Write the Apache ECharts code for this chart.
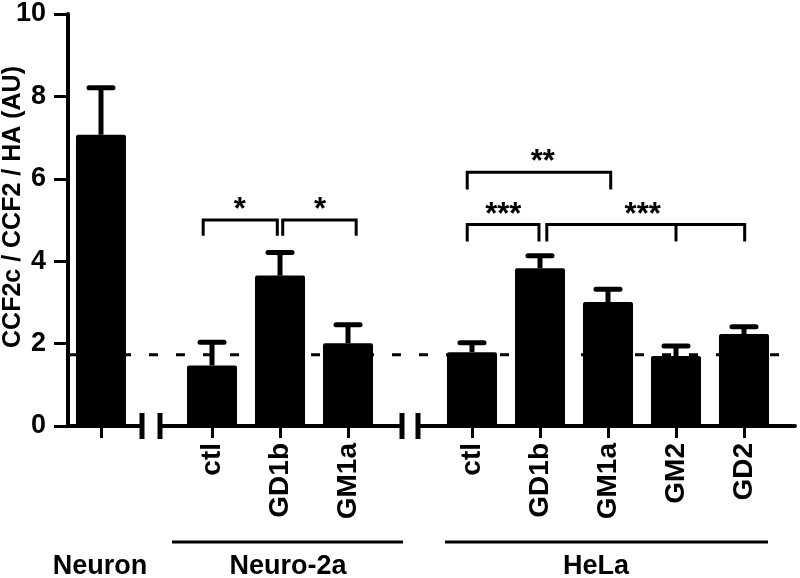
<!DOCTYPE html>
<html><head><meta charset="utf-8">
<script src="https://cdn.jsdelivr.net/npm/echarts@6/dist/echarts.min.js"></script>
<style>html,body{margin:0;padding:0;background:#fff}#c{width:800px;height:578px}</style>
</head><body><div id="c"></div>
<script>
// ---- data ----
const groupNames = ['Neuron', 'Neuro-2a', 'HeLa'];
const neuronCats = ['Neuron'];
const neuronMeans = [7.07];
const neuronErrTop = [8.21];
const n2aCats = ['ctl', 'GD1b', 'GM1a'];
const n2aMeans = [1.47, 3.65, 2.01];
const n2aErrTop = [2.03, 4.21, 2.46];
const helaCats = ['ctl', 'GD1b', 'GM1a', 'GM2', 'GD2'];
const helaMeans = [1.79, 3.83, 3.01, 1.70, 2.23];
const helaErrTop = [2.02, 4.13, 3.32, 1.94, 2.41];
const controlLevel = 1.73;
const yTicks = [0, 2, 4, 6, 8, 10];
// significance brackets: [fromIdx, toIdx, topValue, legEndValue, middleLegIdx]
const n2aBrackets = [[-0.13, 0.96, 5.0, 4.62, null], [1.04, 2.12, 5.0, 4.62, null]];
const n2aStars = [[0.41, 5.0, '*'], [1.59, 5.0, '*']];
const helaBrackets = [[-0.07, 2.04, 6.16, 5.74, null], [-0.07, 0.985, 4.89, 4.48, null], [1.10, 4.01, 4.89, 4.48, 3.0]];
const helaStars = [[1.04, 6.16, '**'], [0.46, 4.89, '***'], [2.51, 4.89, '***']];

// ---- chart ----
const FONT = '"Liberation Sans", Arial, Helvetica, sans-serif';
const chart = echarts.init(document.getElementById('c'), null, {renderer: 'canvas'});
const TOP = 14, H = 412;
const grids = [
  {left: 68, top: TOP, width: 74, height: H},
  {left: 160, top: TOP, width: 242, height: H},
  {left: 418, top: TOP, width: 377, height: H},
  {left: 68, top: TOP, width: 727, height: H}
].map(g => Object.assign(g, {containLabel: false, outerBoundsMode: 'none'}));
const cats = [neuronCats, n2aCats, helaCats];
const xRanges = [[-0.485, 0.603], [-0.765, 2.794], [-0.794, 4.75]];
const symbols = [['none', 'rect'], ['rect', 'rect'], ['rect', 'none']];

const xAxes = cats.map((c, i) => ({
  type: 'value', gridIndex: i, min: xRanges[i][0], max: xRanges[i][1],
  splitLine: {show: false},
  axisLine: {show: true, onZero: false, lineStyle: {color: '#000', width: 4},
    symbol: symbols[i], symbolSize: [26, 5]},
  axisTick: {show: true, customValues: c.map((_, k) => k), length: 12, lineStyle: {color: '#000', width: 3}},
  axisLabel: {show: true, customValues: c.map((_, k) => k),
    formatter: v => i === 0 ? '' : (c[Math.round(v)] || ''),
    rotate: 90, margin: 17, color: '#000', fontSize: 28, fontWeight: 'bold', fontFamily: FONT}
}));
xAxes.push({type: 'value', gridIndex: 3, min: 0, max: 1, show: false});

const yAxes = [0, 1, 2, 3].map(i => ({
  type: 'value', gridIndex: i, min: 0, max: 10, interval: 2, show: i === 0,
  splitLine: {show: false},
  name: i === 0 ? 'CCF2c / CCF2 / HA (AU)' : '', nameLocation: 'middle', nameGap: 42, nameMoveOverlap: false,
  nameTextStyle: {color: '#000', fontSize: 25, fontWeight: 'bold', fontFamily: FONT, padding: [0, 0, 0, 26]},
  axisLine: {show: true, onZero: false, lineStyle: {color: '#000', width: 4}},
  axisTick: {show: true, length: 14, lineStyle: {color: '#000', width: 3}},
  axisLabel: {show: true, margin: 22, color: '#000', fontSize: 27, fontWeight: 'bold', fontFamily: FONT,
    formatter: v => yTicks.includes(v) ? String(v) : ''}
}));

const meansAll = [neuronMeans, n2aMeans, helaMeans];
const errAll = [neuronErrTop, n2aErrTop, helaErrTop];
const series = [];
meansAll.forEach((m, i) => {
  series.push({
    type: 'bar', xAxisIndex: i, yAxisIndex: i, barWidth: 50, z: 3,
    itemStyle: {color: '#000', borderRadius: 2},
    data: m.map((v, k) => [k, v])
  });
  series.push({
    type: 'custom', xAxisIndex: i, yAxisIndex: i, z: 4,
    data: m.map((v, k) => [k, v, errAll[i][k]]),
    renderItem: (params, api) => {
      const base = api.coord([api.value(0), api.value(1)]);
      const top = api.coord([api.value(0), api.value(2)]);
      return {type: 'group', children: [
        {type: 'line', shape: {x1: base[0], y1: base[1], x2: top[0], y2: top[1]}, style: {stroke: '#000', lineWidth: 5}},
        {type: 'line', shape: {x1: top[0] - 12, y1: top[1], x2: top[0] + 12, y2: top[1]}, style: {stroke: '#000', lineWidth: 5, lineCap: 'round'}}
      ]};
    }
  });
});

function bracketSeries(idx, brackets) {
  return {
    type: 'custom', xAxisIndex: idx, yAxisIndex: idx, z: 5, clip: false,
    data: brackets.map(b => [b[0], b[1], b[2], b[3], b[4] == null ? -99 : b[4]]),
    renderItem: (params, api) => {
      const a = api.coord([api.value(0), api.value(2)]);
      const b = api.coord([api.value(1), api.value(2)]);
      const la = api.coord([api.value(0), api.value(3)]);
      const lb = api.coord([api.value(1), api.value(3)]);
      const ch = [{type: 'polyline', shape: {points: [la, a, b, lb]}, style: {stroke: '#000', lineWidth: 3, fill: null}}];
      if (api.value(4) > -99) {
        const m1 = api.coord([api.value(4), api.value(2)]);
        const m2 = api.coord([api.value(4), api.value(3)]);
        ch.push({type: 'line', shape: {x1: m1[0], y1: m1[1], x2: m2[0], y2: m2[1]}, style: {stroke: '#000', lineWidth: 3}});
      }
      return {type: 'group', children: ch};
    }
  };
}
function starSeries(idx, stars) {
  return {
    type: 'custom', xAxisIndex: idx, yAxisIndex: idx, z: 5, clip: false,
    data: stars.map(s => [s[0], s[1]]),
    renderItem: (params, api) => {
      const p = api.coord([api.value(0), api.value(1)]);
      const t = stars[params.dataIndex][2];
      return {type: 'text', x: p[0], y: p[1] + 6, style: {text: t, fill: '#000',
        font: 'bold 31px ' + FONT, textAlign: 'center', textVerticalAlign: 'bottom'}};
    }
  };
}
series.push(bracketSeries(1, n2aBrackets), starSeries(1, n2aStars));
series.push(bracketSeries(2, helaBrackets), starSeries(2, helaStars));
series.push({
  type: 'line', xAxisIndex: 3, yAxisIndex: 3, z: 1, symbol: 'none', silent: true,
  data: [[0, controlLevel], [1, controlLevel]],
  lineStyle: {color: '#000', width: 3, type: [9, 18]}
});

const textStyle = {fill: '#000', font: 'bold 27px ' + FONT, textAlign: 'center', textVerticalAlign: 'middle'};
chart.setOption({
  animation: false,
  backgroundColor: '#fff',
  grid: grids,
  xAxis: xAxes,
  yAxis: yAxes,
  series: series,
  graphic: [
    {type: 'line', shape: {x1: 172, y1: 542, x2: 403, y2: 542}, style: {stroke: '#000', lineWidth: 3}},
    {type: 'line', shape: {x1: 445, y1: 542, x2: 768, y2: 542}, style: {stroke: '#000', lineWidth: 3}},
    {type: 'text', x: 100, y: 567, style: Object.assign({text: groupNames[0]}, textStyle)},
    {type: 'text', x: 288, y: 567, style: Object.assign({text: groupNames[1]}, textStyle)},
    {type: 'text', x: 596, y: 567, style: Object.assign({text: groupNames[2]}, textStyle)}
  ]
});
</script></body></html>
